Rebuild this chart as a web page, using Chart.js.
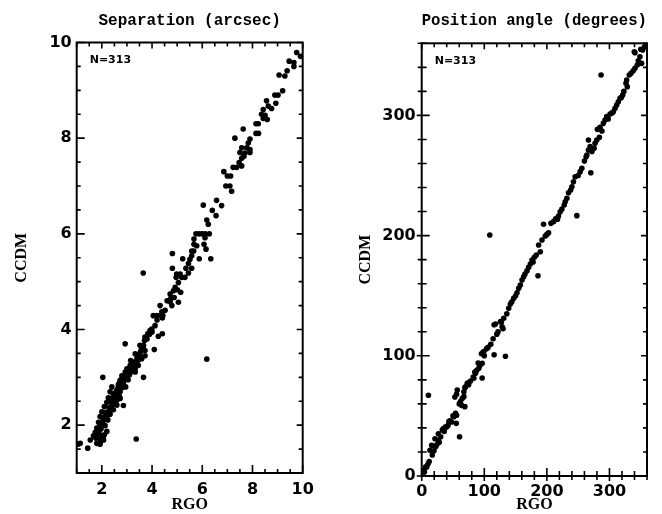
<!DOCTYPE html>
<html>
<head>
<meta charset="utf-8">
<script src="https://cdn.jsdelivr.net/npm/chart.js@4.4.0/dist/chart.umd.min.js"></script>
<style>
    body { margin: 0; background: #fff; }
    #wrap { position: relative; width: 662px; height: 514px; overflow: hidden; }
    canvas { position: absolute; top: 0; }
</style>
</head>
<body>
<div id="wrap">
    <canvas id="sep-chart" width="331" height="514" style="left:0"></canvas>
    <canvas id="pa-chart" width="331" height="514" style="left:331px"></canvas>
</div>
<script>
// Separation (arcsec): RGO vs CCDM
var sepRGO = [
    9.76, 9.91, 9.46, 9.65, 9.65, 9.38, 9.06, 9.29, 9.20, 8.89,
    9.02, 8.56, 8.93, 8.63, 8.43, 8.76, 8.36, 8.50, 8.43, 8.59,
    8.14, 8.23, 7.63, 8.14, 8.24, 7.30, 7.90, 7.83, 7.57, 7.77,
    7.90, 7.50, 7.70, 7.90, 7.66, 7.57, 7.47, 7.57, 7.23, 7.37,
    6.86, 7.00, 7.13, 6.94, 7.10, 7.17, 6.57, 6.04, 6.77, 6.40,
    6.55, 6.18, 6.24, 5.75, 5.88, 6.00, 6.12, 6.28, 5.67, 6.11,
    6.07, 5.67, 5.78, 6.15, 5.58, 5.66, 4.81, 5.58, 5.22, 5.51,
    5.88, 6.34, 5.45, 4.81, 5.35, 5.58, 3.65, 4.98, 5.12, 5.45,
    4.96, 5.18, 5.31, 5.05, 4.92, 4.85, 5.01, 5.14, 4.72, 4.75,
    4.88, 5.05, 4.72, 4.79, 4.32, 4.05, 4.19, 4.39, 4.52, 4.43,
    4.41, 4.12, 3.99, 3.92, 3.83, 4.41, 4.25, 3.72, 3.70, 2.93,
    3.52, 3.66, 3.59, 3.72, 4.09, 3.33, 3.52, 3.72, 3.59, 3.46,
    3.26, 3.39, 3.13, 3.26, 3.00, 3.17, 3.33, 2.93, 3.06, 3.33,
    2.80, 3.00, 3.66, 2.04, 2.73, 2.90, 2.66, 2.86, 2.40, 2.80,
    2.60, 2.73, 2.33, 2.46, 2.60, 2.26, 2.73, 2.46, 2.20, 2.37,
    2.60, 2.86, 2.10, 2.29, 2.46, 2.00, 2.16, 2.33, 1.93, 2.10,
    2.24, 1.87, 2.03, 2.13, 1.80, 1.97, 2.20, 1.74, 1.89, 2.10,
    1.67, 1.76, 1.93, 2.07, 1.54, 1.80, 1.93, 1.14, 1.44, 3.37,
    6.18, 1.05, 2.50, 2.55, 2.65, 2.70, 2.78, 2.85, 2.95, 3.05,
    3.10, 3.20, 3.20, 3.40, 3.50, 3.55, 3.65, 3.80, 3.90, 4.00,
    4.20, 4.35, 4.60, 2.40, 2.30, 2.15, 2.05, 1.95, 1.85, 1.80,
    2.00, 1.95, 2.05, 2.25, 2.35, 2.55, 2.70, 2.95, 3.05, 2.60,
    3.15, 3.30, 3.45
];
var sepCCDM = [
    9.79, 9.71, 9.61, 9.58, 9.50, 9.41, 9.32, 9.30, 8.99, 8.90,
    8.90, 8.78, 8.73, 8.67, 8.60, 8.62, 8.50, 8.48, 8.41, 8.39,
    8.30, 8.30, 8.19, 8.10, 8.10, 8.00, 7.98, 7.90, 7.80, 7.80,
    7.76, 7.70, 7.69, 7.70, 7.62, 7.58, 7.49, 7.42, 7.39, 7.39,
    7.30, 7.21, 7.21, 7.00, 7.00, 6.89, 6.70, 6.60, 6.59, 6.49,
    6.38, 6.29, 6.20, 6.00, 6.00, 6.00, 6.00, 6.00, 5.89, 5.92,
    5.78, 5.78, 5.75, 5.68, 5.64, 5.64, 5.59, 5.54, 5.48, 5.47,
    5.48, 5.48, 5.38, 5.28, 5.28, 5.28, 5.18, 5.16, 5.16, 5.18,
    5.09, 5.09, 5.09, 4.98, 4.88, 4.81, 4.83, 4.78, 4.74, 4.65,
    4.67, 4.57, 4.58, 4.50, 4.50, 4.29, 4.29, 4.37, 4.40, 4.29,
    4.24, 4.08, 4.01, 3.98, 3.91, 3.91, 3.86, 3.84, 3.77, 3.70,
    3.67, 3.67, 3.60, 3.56, 3.58, 3.49, 3.51, 3.45, 3.39, 3.36,
    3.32, 3.31, 3.25, 3.24, 3.18, 3.20, 3.18, 3.11, 3.10, 3.11,
    3.03, 3.04, 3.00, 3.00, 2.94, 2.94, 2.85, 2.87, 2.80, 2.78,
    2.73, 2.70, 2.70, 2.63, 2.62, 2.57, 2.56, 2.50, 2.48, 2.48,
    2.42, 2.41, 2.39, 2.37, 2.32, 2.28, 2.27, 2.23, 2.18, 2.16,
    2.11, 2.06, 2.04, 1.99, 1.94, 1.92, 1.87, 1.85, 1.83, 1.80,
    1.78, 1.73, 1.71, 1.69, 1.69, 1.62, 1.60, 1.62, 1.52, 1.71,
    3.38, 1.60, 2.55, 2.68, 2.78, 2.88, 2.95, 3.00, 3.05, 3.15,
    3.05, 3.12, 3.28, 3.40, 3.45, 3.55, 3.62, 3.80, 3.90, 3.95,
    4.20, 4.30, 4.60, 2.40, 2.30, 2.20, 2.10, 2.00, 1.90, 1.78,
    1.78, 1.65, 1.75, 2.22, 2.55, 2.45, 2.60, 2.80, 2.95, 2.52,
    3.35, 3.30, 3.25
];
var sepTicks = [2, 4, 6, 8, 10];

// Position angle (degrees): RGO vs CCDM
var paRGO = [
    353.0, 339.7, 340.8, 348.7, 346.0, 351.4, 344.4, 340.8, 338.0, 334.4,
    331.7, 286.6, 327.5, 326.4, 328.5, 321.2, 316.9, 314.2, 311.6, 308.9,
    306.2, 301.0, 295.7, 293.0, 290.3, 285.0, 280.7, 283.9, 279.8, 277.0,
    266.4, 269.1, 266.4, 263.9, 275.5, 262.7, 255.9, 253.2, 270.2, 245.2,
    242.5, 240.0, 234.6, 229.3, 227.7, 247.9, 221.3, 218.6, 217.0, 210.7,
    206.5, 194.7, 108.8, 202.7, 197.5, 192.2, 186.8, 189.5, 183.1, 176.3,
    173.6, 170.9, 168.3, 185.8, 162.9, 160.3, 157.6, 155.0, 152.3, 147.0,
    141.7, 139.0, 131.1, 125.8, 117.8, 128.5, 127.4, 130.0, 115.7, 115.7,
    133.8, 114.1, 110.4, 103.5, 98.2, 95.5, 90.2, 99.2, 96.6, 91.2,
    96.6, 86.0, 83.3, 84.9, 82.3, 74.3, 69.0, 72.8, 70.0, 67.4,
    56.8, 53.0, 55.7, 67.4, 64.8, 63.7, 69.0, 54.1, 51.4, 55.7,
    55.2, 60.5, 47.8, 43.5, 38.2, 39.8, 34.6, 32.9, 30.3, 26.6,
    26.6, 22.3, 21.2, 19.6, 17.0, 15.9, 13.2, 10.7, 8.0, 6.4,
    4.3, 3.7, 1.1, 1.0, 350, 356, 358, 323, 319, 304,
    298, 288, 272, 260, 250, 238, 232, 224, 214, 200,
    180, 178, 165, 150, 144, 136, 122, 120, 106, 100,
    93, 88, 78, 75, 62, 60, 50, 45, 42, 36,
    28, 24, 12, 10
];
var paCCDM = [
    354.4, 353.0, 352.2, 348.8, 345.5, 343.3, 341.9, 339.2, 337.2, 335.0,
    333.6, 333.6, 329.5, 326.7, 323.9, 317.0, 314.2, 311.4, 308.7, 305.9,
    303.1, 301.2, 299.0, 296.2, 293.4, 290.1, 288.4, 281.8, 279.5, 276.8,
    279.5, 274.0, 271.2, 267.0, 272.6, 265.6, 256.0, 253.2, 252.3, 249.0,
    244.8, 240.7, 235.7, 228.2, 225.5, 216.6, 219.9, 216.3, 213.6, 211.6,
    210.2, 209.4, 200.5, 202.4, 199.7, 196.3, 192.2, 186.6, 183.9, 179.7,
    176.4, 173.6, 170.8, 166.6, 165.8, 163.1, 158.9, 156.2, 152.5, 147.8,
    143.1, 139.5, 131.2, 128.4, 126.5, 124.2, 128.1, 122.5, 125.9, 100.9,
    99.6, 114.2, 109.6, 105.9, 103.2, 101.7, 94.0, 103.4, 93.8, 89.6,
    81.5, 85.4, 81.3, 86.5, 82.4, 77.4, 73.5, 77.1, 74.3, 70.1,
    71.5, 65.7, 68.0, 66.0, 64.6, 58.8, 57.7, 52.2, 49.3, 50.5,
    43.8, 32.7, 44.9, 45.2, 41.0, 40.8, 39.4, 38.3, 32.7, 35.2,
    29.4, 24.4, 31.0, 21.0, 17.5, 25.5, 21.4, 67.2, 7.5, 7.7,
    3.3, 5.0, 3.6, 1.9, 355, 357, 359, 320, 315, 302,
    297, 287, 270, 262, 250, 238, 231, 222, 214, 201,
    182, 178, 168, 150, 145, 135, 120, 118, 107, 100,
    92, 88, 79, 76, 62, 60, 50, 46, 42, 37,
    28, 26, 12, 10
];
var paTicks = [0, 100, 200, 300];

var sampleNote = "N=313";

// frame with minor/major tick marks, drawn from the chart's own scales
var frameTicks = {
    id: "frameTicks",
    afterDraw: function (chart, args, opts) {
        var ctx = chart.ctx,
            area = chart.chartArea,
            xs = chart.scales.x,
            ys = chart.scales.y;

        function isMajor(v, list) {
            for (var k = 0; k < list.length; k++) {
                if (Math.abs(list[k] - v) < 1e-6) return true;
            }
            return false;
        }

        ctx.save();
        ctx.strokeStyle = "#000";
        ctx.lineWidth = 1.6;
        ctx.beginPath();

        var i, v, p, m, n;
        n = Math.round((xs.max - xs.min) / opts.step);
        for (i = 0; i <= n; i++) {
            v = xs.min + i * opts.step;
            p = xs.getPixelForValue(v);
            m = isMajor(v, opts.majors);
            ctx.moveTo(p, area.bottom + (m ? opts.outMajor : opts.outMinor));
            ctx.lineTo(p, area.bottom - (m ? opts.inMajor : opts.inMinor));
            ctx.moveTo(p, area.top);
            ctx.lineTo(p, area.top + (m ? opts.farMajor : opts.farMinor));
        }
        n = Math.round((ys.max - ys.min) / opts.step);
        for (i = 0; i <= n; i++) {
            v = ys.min + i * opts.step;
            p = ys.getPixelForValue(v);
            m = isMajor(v, opts.majors);
            ctx.moveTo(area.left - (m ? opts.outMajor : opts.outMinor), p);
            ctx.lineTo(area.left + (m ? opts.inMajor : opts.inMinor), p);
            ctx.moveTo(area.right, p);
            ctx.lineTo(area.right - (m ? opts.farMajor : opts.farMinor), p);
        }
        ctx.stroke();

        ctx.lineWidth = 2;
        ctx.strokeRect(area.left, area.top, area.right - area.left, area.bottom - area.top);

        ctx.fillStyle = "#000";
        ctx.font = "bold 11px 'DejaVu Sans'";
        ctx.textBaseline = "middle";
        ctx.fillText(opts.note, area.left + 13, area.top + 17.5);
        ctx.restore();
    },
};

function toPoints(xs, ys) {
    return xs.map(function (x, i) {
        return { x: x, y: ys[i] };
    });
}

function render(id, s) {
    var tickFont = { family: "'DejaVu Sans'", size: 16, weight: "bold" };
    var axisFont = { family: "'Liberation Serif'", size: 16, weight: "bold" };

    return new Chart(document.getElementById(id).getContext("2d"), {
        type: "scatter",
        data: {
            datasets: [
                {
                    data: toPoints(s.xData, s.yData),
                    backgroundColor: "#000",
                    borderWidth: 0,
                    pointRadius: 2.8,
                },
            ],
        },
        plugins: [frameTicks],
        options: {
            responsive: false,
            animation: false,
            layout: { padding: { left: 0, top: 0, right: s.padRight, bottom: 0 } },
            plugins: {
                legend: { display: false },
                tooltip: { enabled: false },
                title: {
                    display: true,
                    fullSize: false,
                    text: s.title,
                    color: "#000",
                    font: { family: "'Liberation Mono'", size: 16, weight: "bold" },
                    padding: { top: 11.4, bottom: s.titleGap },
                },
                frameTicks: {
                    step: s.step,
                    majors: s.ticks,
                    note: sampleNote,
                    inMajor: 8,
                    inMinor: s.inMinor,
                    outMajor: s.out,
                    outMinor: s.out ? 4 : 0,
                    farMajor: 6,
                    farMinor: 4,
                },
            },
            scales: {
                x: {
                    type: "linear",
                    min: s.min,
                    max: s.max,
                    afterBuildTicks: function (scale) {
                        scale.ticks = s.ticks.map(function (t) { return { value: t }; });
                    },
                    afterFit: function (scale) { scale.height = s.xHeight; },
                    grid: { display: false, drawTicks: false },
                    border: { display: false },
                    ticks: { color: "#000", font: tickFont, padding: s.xPad, maxRotation: 0, autoSkip: false },
                    title: { display: true, text: "RGO", color: "#000", font: axisFont, padding: { top: 0, bottom: 0 } },
                },
                y: {
                    type: "linear",
                    min: s.min,
                    max: s.max,
                    afterBuildTicks: function (scale) {
                        scale.ticks = s.ticks.map(function (t) { return { value: t }; });
                    },
                    afterFit: function (scale) { scale.width = s.yWidth; },
                    grid: { display: false, drawTicks: false },
                    border: { display: false },
                    ticks: { color: "#000", font: tickFont, padding: s.yPad, autoSkip: false },
                    title: { display: true, text: "CCDM", color: "#000", font: axisFont, padding: { top: s.yTitlePad, bottom: 0 } },
                },
            },
        },
    });
}

render("sep-chart", {
    title: "Separation (arcsec)",
    xData: sepRGO,
    yData: sepCCDM,
    ticks: sepTicks,
    min: 1,
    max: 10,
    step: 0.5,
    inMinor: 4,
    out: 0,
    yWidth: 76.7,
    xHeight: 41,
    padRight: 28.3,
    titleGap: 11.9,
    xPad: 7,
    yPad: 5,
    yTitlePad: 12,
});

render("pa-chart", {
    title: "Position angle (degrees)",
    xData: paRGO,
    yData: paCCDM,
    ticks: paTicks,
    min: 0,
    max: 360,
    step: 20,
    inMinor: 5,
    out: 5,
    yWidth: 90.7,
    xHeight: 38,
    padRight: 15,
    titleGap: 12.7,
    xPad: 6,
    yPad: 6,
    yTitlePad: 25.4,
});
</script>
</body>
</html>
